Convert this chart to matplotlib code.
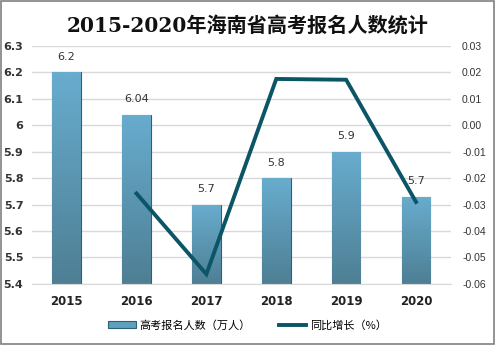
import matplotlib.pyplot as plt
import numpy as np
from matplotlib.colors import LinearSegmentedColormap
from matplotlib.patches import Rectangle

plt.rcParams['font.family'] = ['DejaVu Sans', 'Noto Sans CJK SC']

years = ['2015', '2016', '2017', '2018', '2019', '2020']
applicants = [6.2, 6.04, 5.7, 5.8, 5.9, 5.73]
bar_labels = ['6.2', '6.04', '5.7', '5.8', '5.9', '5.7']
growth_years = ['2016', '2017', '2018', '2019', '2020']
growth = [-0.0258, -0.0563, 0.0175, 0.0172, -0.0290]

fig = plt.figure(figsize=(4.95, 3.45), dpi=100)
fig.patches.append(Rectangle((0.002, 0.003), 0.995, 0.994, transform=fig.transFigure,
                             fill=False, edgecolor='#808080', linewidth=1.2))
ax = fig.add_axes([0.064, 0.177, 0.847, 0.69])

x = np.arange(len(years))
bars = ax.bar(x, applicants, width=0.41, bottom=0, color='#5f9fbf',
              edgecolor='#2f5f73', linewidth=0.8, zorder=2)

# vertical gradient inside bars
cmap = LinearSegmentedColormap.from_list('g', ['#4e7f94', '#68acce'])
grad = np.linspace(0, 1, 100).reshape(-1, 1)
for b in bars:
    bx, bw, bh = b.get_x(), b.get_width(), b.get_height()
    im = ax.imshow(grad, cmap=cmap, origin='lower', aspect='auto',
                   extent=[bx, bx + bw, 5.4, bh], zorder=2.1)
    im.set_clip_path(b)

for xi, v, lab in zip(x, applicants, bar_labels):
    ax.text(xi, v + 0.04, lab, ha='center', va='bottom', fontsize=8, color='#333333')

ax.set_ylim(5.4, 6.3)
ax.set_xlim(-0.5, 5.5)
ax.set_yticks(np.arange(5.4, 6.31, 0.1))
ax.set_yticklabels(['5.4', '5.5', '5.6', '5.7', '5.8', '5.9', '6', '6.1', '6.2', '6.3'],
                   fontsize=8, fontweight='bold', color='#333333')
ax.set_xticks(x)
ax.set_xticklabels(years, fontsize=8.5, fontweight='bold', color='#222222')
ax.tick_params(axis='both', length=0, pad=8)
ax.tick_params(axis='y', pad=6)
ax.grid(axis='y', color='#d9d9d9', linewidth=1, zorder=0)
ax.set_axisbelow(True)
for s in ['top', 'right', 'left']:
    ax.spines[s].set_visible(False)
ax.spines['bottom'].set_color('#d9d9d9')

ax2 = ax.twinx()
gx = [years.index(g) for g in growth_years]
ax2.plot(gx, growth, color='#0b5566', linewidth=2.8, solid_joinstyle='miter', zorder=5)
ax2.set_ylim(-0.06, 0.03)
ax2.set_yticks(np.arange(-0.06, 0.031, 0.01))
ax2.set_yticklabels(['%.2f' % v for v in np.arange(-0.06, 0.031, 0.01)],
                    fontsize=7.5, color='#333333', family='Liberation Sans')
ax2.tick_params(axis='y', length=0, pad=8)
for s in ax2.spines.values():
    s.set_visible(False)

fig.text(0.5, 0.925, '2015-2020年海南省高考报名人数统计', ha='center', va='center',
         fontsize=14.5, fontweight='bold', color='#111111',
         family=['DejaVu Serif', 'Noto Sans CJK SC'])

h1 = Rectangle((0, 0), 1, 1, facecolor='#5f9fbf', edgecolor='#2f5f73', linewidth=0.8)
h2 = plt.Line2D([], [], color='#0b5566', linewidth=2.8)
fig.legend([h1, h2], ['高考报名人数（万人）', '同比增长（%）'], loc='center',
           bbox_to_anchor=(0.5, 0.057), ncol=2, frameon=False, fontsize=8,
           handlelength=2.5, handleheight=0.6, columnspacing=2.5, handletextpad=0.3,
           prop={'family': ['Noto Sans CJK SC', 'DejaVu Sans'], 'size': 8})

fig.savefig('out.png', dpi=100)
